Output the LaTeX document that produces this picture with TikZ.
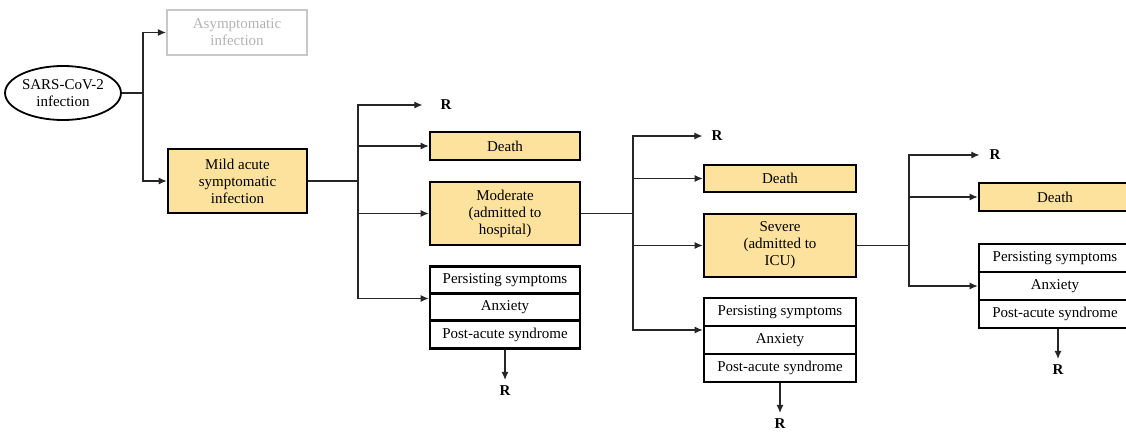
\documentclass[tikz,border=0pt]{standalone}
\usepackage{fontspec}
\setmainfont{Liberation Serif}
\usetikzlibrary{arrows.meta,shapes.geometric}
\definecolor{boxyellow}{RGB}{252,226,156}
\definecolor{lightgr}{RGB}{200,200,200}
\tikzset{
  txt/.style={font=\fontsize{15}{17}\selectfont, align=center},
  ybox/.style={txt, draw=black, line width=2.6pt, fill=boxyellow, minimum width=#1, inner sep=0pt},
  ybox/.default=150pt,
  wbox/.style={txt, draw=black, line width=2.6pt, fill=white, minimum width=#1, minimum height=28pt, inner sep=0pt},
  wbox/.default=150pt,
  gbox/.style={txt, draw=lightgr, line width=2.2pt, text=lightgr!90!black, minimum width=140pt, minimum height=45pt, inner sep=0pt},
  rlab/.style={font=\fontsize{15}{17}\selectfont\bfseries, inner sep=3pt},
  conn/.style={draw=black!85, line width=1.1pt},
  arr/.style={conn, -{Latex[length=8pt,width=7pt]}},
}
\begin{document}
\begin{tikzpicture}[x=1pt,y=-1pt]
\clip (0,0) rectangle (1126,437);
\fill[white] (0,0) rectangle (1126,437);

% stage 0
\node[txt, ellipse, draw, line width=1.8pt, minimum width=104pt, minimum height=54pt, inner sep=0pt] (sars) at (63,93) {SARS-CoV-2\\infection};
\node[gbox] (asym) at (237,32.5) {Asymptomatic\\infection};
\node[ybox, minimum width=139pt, minimum height=64pt] (mild) at (237.5,181) {Mild acute\\symptomatic\\infection};
\coordinate (j0) at (143,93);
\draw[conn] (sars.east) -- (j0);
\draw[arr] (j0) |- (asym.west);
\draw[arr] (j0) |- (mild.west);

% stage 1
\node[rlab] (r1) at (446,105) {R};
\node[ybox, minimum height=28pt] (death1) at (505,146) {Death};
\node[ybox, minimum height=63pt] (mod) at (505,213.5) {Moderate\\(admitted to\\hospital)};
\node[wbox] (ps1) at (505,280.5) {Persisting symptoms};
\node[wbox] (anx1) at (505,307.5) {Anxiety};
\node[wbox] (pa1) at (505,334.5) {Post-acute syndrome};
\node[rlab] (rd1) at (505,391) {R};
\coordinate (j1) at (358,181);
\draw[conn] (mild.east) -- (j1);
\draw[arr] (j1) |- ([xshift=-15pt]r1.west);
\draw[arr] (j1) |- (death1.west);
\draw[arr] (j1) |- (mod.west);
\draw[arr] (j1) |- ([yshift=9pt]anx1.west);
\draw[arr] (pa1.south) -- ([yshift=3pt]rd1.north);

% stage 2
\node[rlab] (r2) at (717,136) {R};
\node[ybox=152pt, minimum height=27pt] (death2) at (780,178.5) {Death};
\node[ybox=152pt, minimum height=63pt] (sev) at (780,245.5) {Severe\\(admitted to\\ICU)};
\node[wbox=152pt] (ps2) at (780,312) {Persisting symptoms};
\node[wbox=152pt] (anx2) at (780,340) {Anxiety};
\node[wbox=152pt] (pa2) at (780,368) {Post-acute syndrome};
\node[rlab] (rd2) at (780,424) {R};
\coordinate (j2) at (633,213.5);
\draw[conn] (mod.east) -- (j2);
\draw[arr] (j2) |- ([xshift=-6pt]r2.west);
\draw[arr] (j2) |- (death2.west);
\draw[arr] (j2) |- (sev.west);
\draw[arr] (j2) |- ([yshift=10pt]anx2.west);
\draw[arr] (pa2.south) -- ([yshift=3pt]rd2.north);

% stage 3
\node[rlab] (r3) at (995,155) {R};
\node[ybox=152pt, minimum height=28pt] (death3) at (1055,197) {Death};
\node[wbox=152pt] (ps3) at (1055,258) {Persisting symptoms};
\node[wbox=152pt] (anx3) at (1055,286) {Anxiety};
\node[wbox=152pt] (pa3) at (1055,314) {Post-acute syndrome};
\node[rlab] (rd3) at (1058,370) {R};
\coordinate (j3) at (909,245.5);
\draw[conn] (sev.east) -- (j3);
\draw[arr] (j3) |- ([xshift=-7pt]r3.west);
\draw[arr] (j3) |- (death3.west);
\draw[arr] (j3) |- (anx3.west);
\draw[arr] (pa3.south -| rd3) -- ([yshift=3pt]rd3.north);
\end{tikzpicture}
\end{document}
